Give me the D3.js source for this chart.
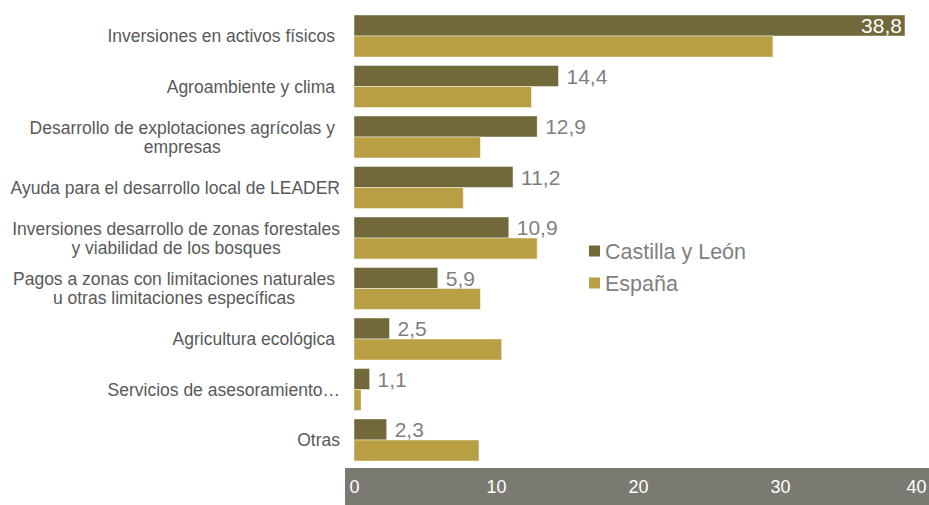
<!DOCTYPE html>
<html><head><meta charset="utf-8">
<script src="https://cdn.jsdelivr.net/npm/d3@7/dist/d3.min.js"></script>
<style>body{margin:0;background:#fff;}svg{display:block;font-family:"Liberation Sans",Arial,sans-serif;}</style>
</head><body>
<svg id="c" width="929" height="505"></svg>
<script>
const categories = [
  ["Inversiones en activos físicos"],
  ["Agroambiente y clima"],
  ["Desarrollo de explotaciones agrícolas y","empresas"],
  ["Ayuda para el desarrollo local de LEADER"],
  ["Inversiones desarrollo de zonas forestales","y viabilidad de los bosques"],
  ["Pagos a zonas con limitaciones naturales","u otras limitaciones específicas"],
  ["Agricultura ecológica"],
  ["Servicios de asesoramiento…"],
  ["Otras"]
];
const trailingSpace = [true, true, true, false, false, true, true, false, false];
const castillaLeon = [38.8, 14.4, 12.9, 11.2, 10.9, 5.9, 2.5, 1.1, 2.3];
const espana = [29.5, 12.5, 8.9, 7.7, 12.9, 8.9, 10.4, 0.5, 8.8];
const seriesNames = ["Castilla y León", "España"];
const xTicks = [0, 10, 20, 30, 40];
const colors = ["#716939", "#b89f44"];

const svg = d3.select("#c");
const x = d3.scaleLinear().domain([0, 40]).range([354, 922]);
const idx = d3.range(categories.length);
const y = d3.scaleBand().domain(idx).range([10.76, 465.24]).paddingInner(0.168).paddingOuter(0.084);
const sub = d3.scaleBand().domain([0, 1]).range([0, y.bandwidth()]);

// axis band
svg.append("rect").attr("x", 345).attr("y", 468).attr("width", 929 - 345).attr("height", 505 - 468).attr("fill", "#7a7a72");
const axis = d3.axisBottom(x).tickValues(xTicks).tickSize(0).tickFormat(d3.format("d"));
const ag = svg.append("g").attr("transform", "translate(0,477)").call(axis);
ag.select(".domain").remove();
ag.selectAll("text").attr("fill", "#ffffff").attr("font-size", 18).attr("font-family", "Liberation Sans, Arial, sans-serif")
  .attr("dx", d => d === 40 ? -6 : 0);

const series = [castillaLeon, espana];
series.forEach((vals, s) => {
  svg.append("g").selectAll("rect").data(idx).join("rect")
    .attr("x", x(0))
    .attr("y", i => y(i) + sub(s))
    .attr("width", i => x(vals[i]) - x(0))
    .attr("height", sub.bandwidth())
    .attr("fill", colors[s])
    .attr("stroke", "rgba(255,255,255,0.45)")
    .attr("stroke-width", 1);
});

// value labels for Castilla y León
const fmt = v => String(v.toFixed(1)).replace(".", ",");
svg.append("g").selectAll("text").data(idx).join("text")
  .attr("x", i => castillaLeon[i] > 35 ? x(castillaLeon[i]) - 3 : x(castillaLeon[i]) + 8)
  .attr("y", i => y(i) + sub(0) + sub.bandwidth() / 2)
  .attr("dy", "0.36em")
  .attr("text-anchor", i => castillaLeon[i] > 35 ? "end" : "start")
  .attr("fill", i => castillaLeon[i] > 35 ? "#ffffff" : "#7f7f7f")
  .attr("font-size", 21)
  .text(i => fmt(castillaLeon[i]));

// category labels
const lh = 19;
idx.forEach(i => {
  const lines = categories[i];
  const g = svg.append("g");
  const cy = y(i) + y.bandwidth() / 2;
  const texts = lines.map((l, k) => g.append("text")
    .attr("y", cy + (k - (lines.length - 1) / 2) * lh)
    .attr("dy", "0.35em")
    .attr("font-size", 17.5)
    .attr("fill", "#595959")
    .text(l));
  const maxW = d3.max(texts, t => t.node().getComputedTextLength());
  const right = trailingSpace[i] ? 335 : 340;
  texts.forEach(t => t.attr("text-anchor", "middle").attr("x", right - maxW / 2));
});

// legend
const lg = svg.append("g");
seriesNames.forEach((n, k) => {
  const cy = 251 + k * 32;
  lg.append("rect").attr("x", 589).attr("y", cy - 5.5).attr("width", 11).attr("height", 11).attr("fill", colors[k]);
  lg.append("text").attr("x", 605).attr("y", cy).attr("dy", "0.36em").attr("font-size", 21.5).attr("fill", "#7f7f7f").text(n);
});
</script>
</body></html>
